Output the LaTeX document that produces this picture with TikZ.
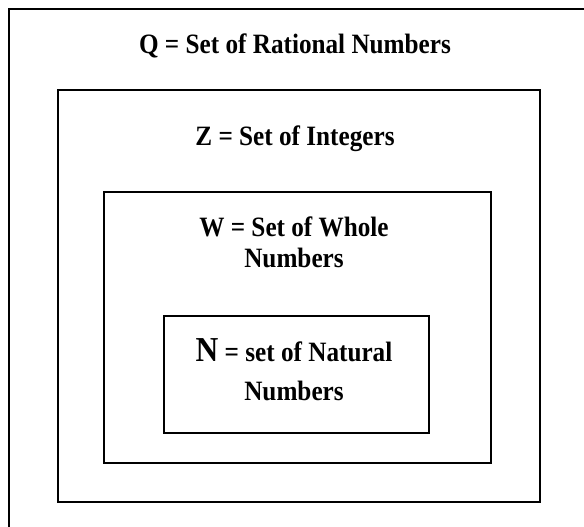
\documentclass[tikz,border=0pt]{standalone}
\usepackage{fontspec}
\setmainfont[FakeStretch=0.9]{Liberation Serif}
\begin{document}
\begin{tikzpicture}[x=1pt,y=-1pt,
  setbox/.style={draw=black,line width=1.3pt},
  lbl/.style={font=\bfseries\fontsize{28}{31}\selectfont,align=center,inner sep=0pt,anchor=base}]
\useasboundingbox (0,0) rectangle (584,527);
\fill[white] (0,0) rectangle (584,527);
\begin{scope}
\clip (0,0) rectangle (584,527);
\draw[setbox] (9,9) rectangle (600,540);
\end{scope}
\draw[setbox] (58,90) rectangle (540,502);
\draw[setbox] (104,192) rectangle (491,463);
\draw[setbox] (164,316) rectangle (429,433);
\node[lbl] (q) at (295,54) {Q = Set of Rational Numbers};
\node[lbl] (z) at (295,145) {Z = Set of Integers};
\node[lbl] (w) at (294,267) {W = Set of Whole\\Numbers};
\node[lbl] (n) at (294,400) {{\fontsize{35}{35}\selectfont N} = set of Natural\\[8pt]Numbers};
\end{tikzpicture}
\end{document}
